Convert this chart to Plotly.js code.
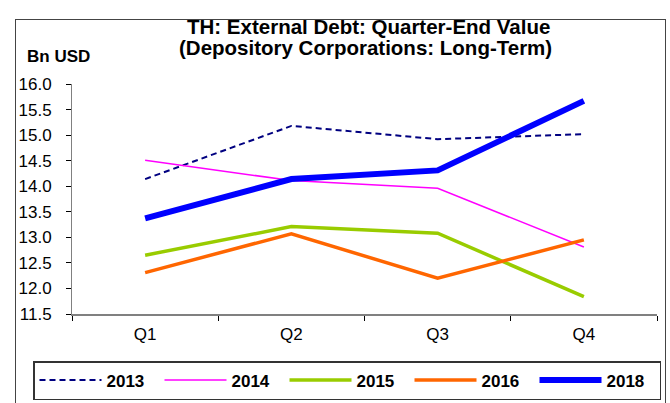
<!DOCTYPE html>
<html><head><meta charset="utf-8">
<script src="https://cdn.plot.ly/plotly-3.0.1.min.js"></script>
<style>
html,body{margin:0;padding:0;background:#fff;}
#wrap{position:relative;width:670px;height:403px;overflow:hidden;}
#frame{position:absolute;left:15px;top:19px;width:651px;height:420px;border:1px solid #444;box-sizing:border-box;pointer-events:none;}
#chart{position:absolute;left:0;top:0;width:670px;height:403px;}
</style></head>
<body><div id="wrap"><div id="chart"></div><div id="frame"></div></div>
<script>
const categories = ['Q1','Q2','Q3','Q4'];
const years = ['2013','2014','2015','2016','2018'];
const v2013 = [14.14, 15.18, 14.92, 15.02];
const v2014 = [14.51, 14.11, 13.96, 12.81];
const v2015 = [12.65, 13.21, 13.08, 11.84];
const v2016 = [12.31, 13.07, 12.20, 12.95];
const v2018 = [13.37, 14.14, 14.31, 15.67];
const yTicks = [11.5,12.0,12.5,13.0,13.5,14.0,14.5,15.0,15.5,16.0];
const titleLines = ['TH: External Debt: Quarter-End Value', '(Depository Corporations: Long-Term)'];
const yUnit = 'Bn USD';

const series = [v2013, v2014, v2015, v2016, v2018];
const styles = [
  {color:'#000080', width:2, dash:'6px,4px'},
  {color:'#FF00FF', width:1.5, dash:'solid'},
  {color:'#99CC00', width:3.5, dash:'solid'},
  {color:'#FF6600', width:3.5, dash:'solid'},
  {color:'#0000FF', width:6, dash:'solid'}
];
const traces = series.map((vals,i)=>({
  x: categories, y: vals, name: years[i], type:'scatter', mode:'lines',
  line: Object.assign({shape:'linear'}, styles[i])
}));
const FF = 'Arial, "Liberation Sans", sans-serif';
const PW = 585, PH = 230, PL = 72, PT = 84;
const layout = {
  width:670, height:403,
  paper_bgcolor:'rgba(0,0,0,0)', plot_bgcolor:'#fff',
  margin:{l:PL, r:13, t:PT, b:89, autoexpand:false},
  font:{family:FF, size:17, color:'#000'},
  xaxis:{type:'category', range:[-0.5,3.5], showgrid:false, zeroline:false,
    showline:true, linecolor:'#808080', linewidth:1.5, ticks:'outside', tickson:'boundaries',
    ticklen:5, tickcolor:'#000', tickfont:{size:17}, ticklabelstandoff:4, fixedrange:true, automargin:false},
  yaxis:{range:[11.5,16], tickvals:yTicks, ticktext:yTicks.map(v=>v.toFixed(1)), showgrid:false, zeroline:false,
    showline:true, linecolor:'#808080', linewidth:1, ticks:'outside', ticklen:5, tickcolor:'#000',
    tickfont:{size:17}, ticklabelstandoff:11, fixedrange:true, automargin:false},
  showlegend:true,
  legend:{orientation:'h', xref:'paper', yref:'paper', x:(33-PL)/PW, xanchor:'left', y:(PT+PH-361)/PH, yanchor:'top',
    bordercolor:'#333', borderwidth:1.5, font:{size:17, family:FF, color:'#000', weight:'bold'},
    itemwidth:62, entrywidth:48, traceorder:'normal', bgcolor:'#fff', tracegroupgap:0},
  annotations:[
    {text:'<b>'+yUnit+'</b>', xref:'paper', yref:'paper', x:(25-PL)/PW, y:1+(PT-56)/PH,
     xanchor:'left', yanchor:'middle', showarrow:false, font:{size:17, color:'#000'}},
    {text:'<b>'+titleLines[0]+'</b>', xref:'paper', yref:'paper', x:(368-PL)/PW, y:1+(PT-26.5)/PH,
     xanchor:'center', yanchor:'middle', showarrow:false, font:{size:20.5, color:'#000'}},
    {text:'<b>'+titleLines[1]+'</b>', xref:'paper', yref:'paper', x:(365-PL)/PW, y:1+(PT-47.5)/PH,
     xanchor:'center', yanchor:'middle', showarrow:false, font:{size:20.5, color:'#000'}}
  ]
};
Plotly.newPlot('chart', traces, layout, {staticPlot:true, displayModeBar:false});
</script></body></html>
